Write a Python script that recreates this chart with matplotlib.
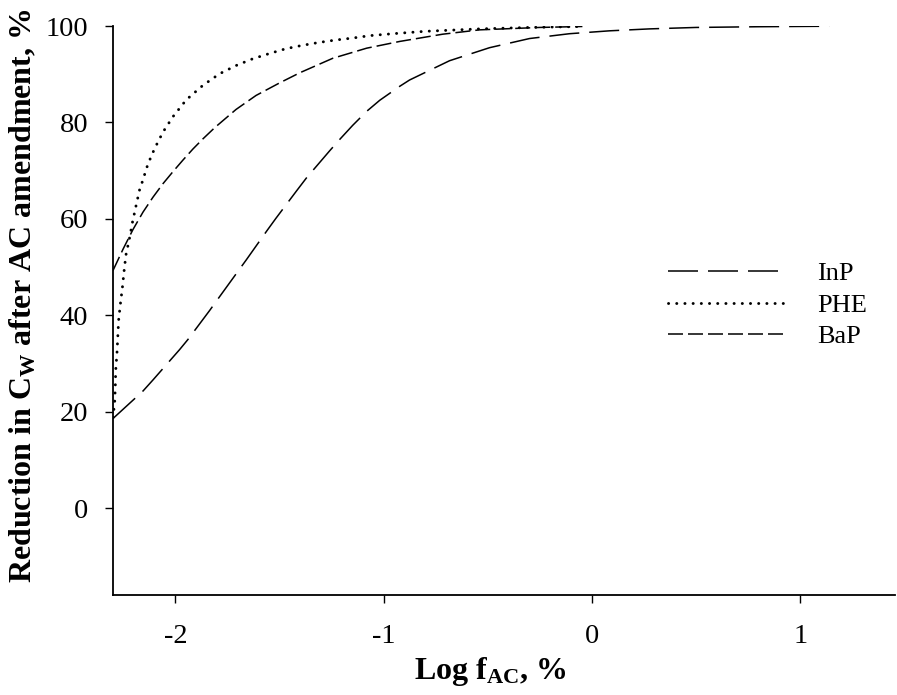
import numpy as np
import matplotlib
matplotlib.use('Agg')
import matplotlib.pyplot as plt

plt.rcParams['font.family'] = ['Liberation Serif', 'DejaVu Serif']
plt.rcParams['mathtext.fontset'] = 'custom'
plt.rcParams['mathtext.rm'] = 'Liberation Serif:bold'
plt.rcParams['mathtext.it'] = 'Liberation Serif:bold'
plt.rcParams['mathtext.bf'] = 'Liberation Serif:bold'
plt.rcParams['lines.scale_dashes'] = False

# curves (log f_AC, % reduction)
inp_x = [-2.300, -2.156, -2.108, -1.980, -1.940, -1.836, -1.796, -1.692, -1.660,
         -1.560, -1.518, -1.417, -1.371, -1.260, -1.213, -1.149, -1.082, -1.019,
         -0.923, -0.876, -0.684, -0.492, -0.300, -0.108, 0.084, 0.276, 0.500,
         0.800, 1.139]
inp_y = [18.6, 24.3, 26.6, 32.9, 35.0, 41.0, 43.4, 49.6, 51.5,
         57.6, 60.1, 65.9, 68.5, 74.1, 76.4, 79.4, 82.3, 84.6,
         87.5, 88.8, 92.8, 95.5, 97.4, 98.4, 99.0, 99.4, 99.7,
         99.85, 99.95]

phe_x = [-2.300, -2.292, -2.289, -2.287, -2.281, -2.277, -2.273, -2.265, -2.255,
         -2.247, -2.238, -2.222, -2.207, -2.190, -2.172, -2.160, -2.132, -2.100,
         -2.060, -2.012, -1.948, -1.868, -1.788, -1.709, -1.629, -1.548, -1.469,
         -1.389, -1.309, -1.229, -1.149, -1.067, -0.957, -0.800, -0.540, -0.300,
         -0.050]
phe_y = [18.8, 22.0, 25.1, 28.6, 32.1, 35.5, 39.0, 42.2, 45.7,
         49.1, 52.5, 55.7, 59.2, 62.6, 66.1, 67.6, 71.4, 74.6,
         78.0, 81.2, 84.7, 87.7, 90.1, 91.8, 93.2, 94.3, 95.3,
         96.0, 96.6, 97.1, 97.5, 98.0, 98.4, 98.9, 99.4, 99.7,
         99.9]

bap_x = [-2.300, -2.252, -2.204, -2.156, -2.108, -2.060, -2.012, -1.964, -1.916,
         -1.868, -1.812, -1.709, -1.613, -1.500, -1.403, -1.245, -1.082, -0.923,
         -0.717, -0.540, -0.252, -0.046]
bap_y = [49.3, 53.7, 57.8, 61.4, 64.5, 67.3, 69.8, 72.2, 74.5,
         76.6, 78.9, 82.7, 85.6, 88.2, 90.3, 93.3, 95.4, 96.8,
         98.3, 99.2, 99.7, 99.9]

x_ticks = [-2, -1, 0, 1]
y_ticks = [0, 20, 40, 60, 80, 100]

fig = plt.figure(figsize=(8.97, 6.95), dpi=100)
ax = fig.add_axes([113 / 897, 1 - 595 / 695, (895 - 113) / 897, (595 - 26) / 695])

lw = 1.1
ax.plot(inp_x, inp_y, color='black', lw=lw, dashes=(21.6, 7.2), label='InP')
ax.plot(phe_x, phe_y, color='black', lw=2.1, dashes=(0.1, 5.8),
        dash_capstyle='round', label='PHE')
ax.plot(bap_x, bap_y, color='black', lw=lw, dashes=(10.8, 3.6), label='BaP')

ax.set_xlim(-2.3, 1.455)
ax.set_ylim(-18, 100)
ax.set_xticks(x_ticks)
ax.set_xticklabels([str(t) for t in x_ticks])
ax.set_yticks(y_ticks)
ax.set_yticklabels([str(t) for t in y_ticks])
ax.tick_params(labelsize=20.5, length=6, width=1.0, direction='out')
ax.tick_params(axis='x', pad=15)
ax.tick_params(axis='y', pad=12)

for side in ['top', 'right']:
    ax.spines[side].set_visible(False)
for side in ['left', 'bottom']:
    ax.spines[side].set_linewidth(1.3)

ax.set_xlabel(r'Log f$_{\mathrm{AC}}$, %', fontsize=23, fontweight='bold')
ax.xaxis.set_label_coords((490 - 113) / 782, (595 - 655) / 569)
ax.set_ylabel(r'Reduction in C$_{\mathrm{W}}$ after AC amendment, %',
              fontsize=23, fontweight='bold')
ax.yaxis.set_label_coords((38 - 113) / 782, (595 - 296) / 569)

leg = ax.legend(loc='center left', bbox_to_anchor=((668 - 113) / 782, (595 - 305) / 569),
                frameon=False, fontsize=19, handlelength=4.5, handletextpad=1.14,
                labelspacing=0.3, borderpad=0, borderaxespad=0)

fig.savefig('out.png', dpi=100, facecolor='white')
